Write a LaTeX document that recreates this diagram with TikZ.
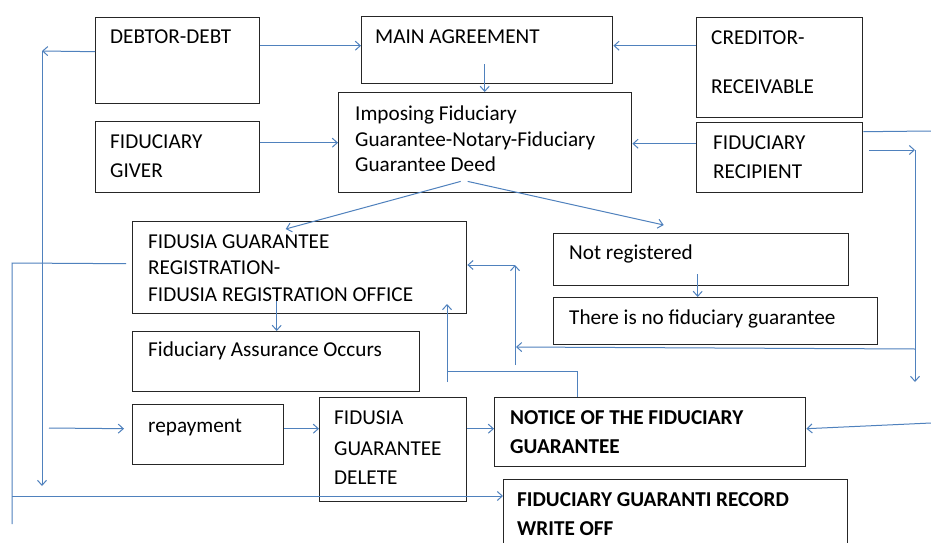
\documentclass[tikz,border=0pt]{standalone}
\usepackage{fontspec}
\setmainfont{Carlito}
\usetikzlibrary{arrows.meta,calc}
\definecolor{conncol}{HTML}{4F81BD}
\definecolor{boxcol}{HTML}{262626}
\tikzset{
  box/.style={draw=boxcol, line width=1.4pt, anchor=north west, inner sep=0pt, fill=none},
  conn/.style={draw=conncol, line width=1pt},
  arr/.style={conn, -{Straight Barb[length=5pt,width=9pt,line width=1pt]}},
  txt/.style={anchor=base west, inner sep=0pt, font=\fontsize{21.2}{24}\selectfont},
  btxt/.style={txt, font=\fontsize{21.2}{24}\selectfont\bfseries}
}
\newcommand{\tl}[5][txt]{\node[#1] (#2) at (#3,#4) {#5};}
\begin{document}
\begin{tikzpicture}[x=1pt,y=-1pt]
\useasboundingbox (0,0) rectangle (931,543);
\clip (0,0) rectangle (931,543);
\fill[white] (0,0) rectangle (931,543);
% boxes
\node[box, minimum width=164pt, minimum height=86pt] (debt) at (95,17) {};
\node[box, minimum width=164pt, minimum height=71pt] (giver) at (95,121) {};
\node[box, minimum width=251pt, minimum height=67pt] (main) at (361,16) {};
\node[box, minimum width=293pt, minimum height=100pt] (impose) at (338,92) {};
\node[box, minimum width=166pt, minimum height=100pt] (cred) at (696,17) {};
\node[box, minimum width=166pt, minimum height=70pt] (recip) at (696,122) {};
\node[box, minimum width=334pt, minimum height=92pt] (reg) at (132,221) {};
\node[box, minimum width=287pt, minimum height=60pt] (occ) at (132,331) {};
\node[box, minimum width=295pt, minimum height=52pt] (notreg) at (553,233) {};
\node[box, minimum width=324pt, minimum height=47pt] (nofid) at (553,297) {};
\node[box, minimum width=151pt, minimum height=60pt] (repay) at (132,404) {};
\node[box, minimum width=147pt, minimum height=104pt] (del) at (319,397) {};
\node[box, minimum width=311pt, minimum height=69pt] (notice) at (494,397) {};
\node[box, minimum width=344pt, minimum height=91pt] (record) at (503,479) {};
% texts
\tl{tdebt}{110}{44}{DEBTOR-DEBT}
\tl{tgiv1}{110}{148}{FIDUCIARY}
\tl{tgiv2}{110}{177}{GIVER}
\tl{tmain}{375}{44}{MAIN AGREEMENT}
\tl{timp1}{355}{120}{Imposing Fiduciary}
\tl{timp2}{355}{146}{Guarantee-Notary-Fiduciary}
\tl{timp3}{355}{171}{Guarantee Deed}
\tl{tcred1}{711}{45}{CREDITOR-}
\tl{tcred2}{711}{93}{RECEIVABLE}
\tl{trec1}{713}{149}{FIDUCIARY}
\tl{trec2}{713}{178}{RECIPIENT}
\tl{treg1}{148}{248}{FIDUSIA GUARANTEE}
\tl{treg2}{148}{274}{REGISTRATION-}
\tl{treg3}{148}{301}{FIDUSIA REGISTRATION OFFICE}
\tl{tocc}{148}{356}{Fiduciary Assurance Occurs}
\tl{tnot}{569}{259}{Not registered}
\tl{tnof}{569}{324}{There is no fiduciary guarantee}
\tl{trep}{148}{432}{repayment}
\tl{tdel1}{334}{424}{FIDUSIA}
\tl{tdel2}{334}{455}{GUARANTEE}
\tl{tdel3}{334}{484}{DELETE}
\tl[btxt]{tnt1}{510}{424}{NOTICE OF THE FIDUCIARY}
\tl[btxt]{tnt2}{510}{453}{GUARANTEE}
\tl[btxt]{trc1}{517}{506}{FIDUCIARY GUARANTI RECORD}
\tl[btxt]{trc2}{517}{535}{WRITE OFF}
% free-end coordinates
\coordinate (rEdge) at (931,131);
\coordinate (rA) at (869,150);
\coordinate (rB) at (915,150);
\coordinate (rC) at (915,382);
\coordinate (rD) at (915,349);
\coordinate (jA) at (516,347);
\coordinate (jB) at (515,365);
\coordinate (jC) at (515,265);
\coordinate (jD) at (577,371);
\coordinate (jE) at (447,371);
\coordinate (jF) at (447,382);
\coordinate (jG) at (447,304);
\coordinate (lA) at (42,51);
\coordinate (lB) at (42,486);
\coordinate (lC) at (12,263);
\coordinate (lD) at (12,524);
\coordinate (lE) at (12,496);
\coordinate (lF) at (49,428);
\coordinate (rF) at (931,423);
% connectors
\draw[arr] ([yshift=15pt]debt.east) -- ([yshift=15pt]debt.east -| main.west);
\draw[arr] ([yshift=22pt]cred.west) -- ([yshift=22pt]cred.west -| main.east);
\draw[arr] ([xshift=-2.5pt,yshift=20pt]main.south) -- ([xshift=-2.5pt]main.south |- impose.north);
\draw[arr] ([yshift=14.5pt]giver.east) -- ([yshift=14.5pt]giver.east -| impose.west);
\draw[arr] ([yshift=14pt]recip.west) -- ([yshift=14pt]recip.west -| impose.east);
\draw[conn] ([yshift=26pt]recip.east) -- (rEdge);
\draw[arr] (rA) -- (rB);
\draw[arr] (rB) -- (rC);
\draw[arr] (rD) -- (jA);
\draw[arr] (jB) -- (jC);
\draw[arr] (jC) -- (jC -| reg.east);
\draw[conn] (notice.north -| jD) -- (jD) -- (jE);
\draw[arr] (jF) -- (jG);
\draw[arr] ([xshift=-24.5pt,yshift=12pt]impose.south) -- ([xshift=-14pt,yshift=-8pt]reg.north);
\draw[arr] ([xshift=-17.5pt,yshift=12pt]impose.south) -- ([xshift=-37.5pt,yshift=8pt]notreg.north);
\draw[arr] ([xshift=-23pt,yshift=13pt]reg.south) -- ([xshift=-23pt]reg.south |- occ.north);
\draw[arr] ([xshift=-3.5pt,yshift=12pt]notreg.south) -- ([xshift=-3.5pt]notreg.south |- nofid.north);
\draw[arr] ([yshift=9pt]debt.west) -- (lA);
\draw[arr] (lA) -- (lB);
\draw[conn] ([xshift=-6pt,yshift=4pt]reg.west) -- (lC) -- (lD);
\draw[arr] (lE) -- (lE -| record.west);
\draw[arr] (lF) -- ([xshift=-8pt,yshift=6pt]repay.west);
\draw[arr] ([yshift=6pt]repay.east) -- ([yshift=6pt]repay.east -| del.west);
\draw[arr] ([yshift=21pt]del.east) -- ([yshift=21pt]del.east -| notice.west);
\draw[arr] (rF) -- ([yshift=3.5pt]notice.east);
\end{tikzpicture}
\end{document}
